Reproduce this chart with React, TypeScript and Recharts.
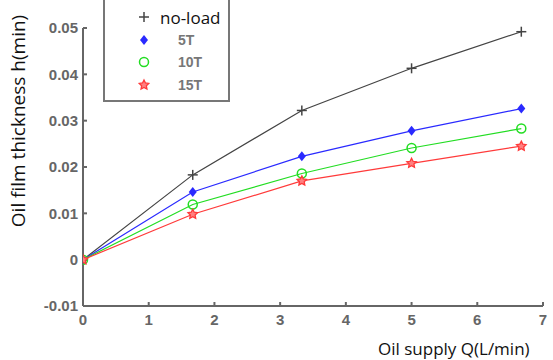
import React from 'react';
import { LineChart, Line, XAxis, YAxis } from 'recharts';

// oil supply Q (L/min)
const supply = [0, 1.67, 3.33, 5, 6.67];
const noLoad = [0, 0.0183, 0.0322, 0.0413, 0.0492];
const load5T = [0, 0.0146, 0.0223, 0.0278, 0.0326];
const load10T = [0, 0.0119, 0.0186, 0.0241, 0.0283];
const load15T = [0, 0.0098, 0.0170, 0.0208, 0.0245];

const xTicks = [0, 1, 2, 3, 4, 5, 6, 7];
const yTicks = [-0.01, 0, 0.01, 0.02, 0.03, 0.04, 0.05];

const data = supply.map((q, i) => ({
  q,
  noLoad: noLoad[i],
  t5: load5T[i],
  t10: load10T[i],
  t15: load15T[i],
}));

const series = [
  { key: 'noLoad', name: 'no-load', color: '#444444', marker: 'plus' },
  { key: 't5', name: '5T', color: '#2a2aff', marker: 'diamond' },
  { key: 't10', name: '10T', color: '#22dd22', marker: 'circle' },
  { key: 't15', name: '15T', color: '#ff3a3a', marker: 'star' },
];

const starPath = (cx: number, cy: number, r: number) => {
  const pts: string[] = [];
  for (let i = 0; i < 10; i++) {
    const rr = i % 2 === 0 ? r : r * 0.5;
    const a = -Math.PI / 2 + (i * Math.PI) / 5;
    pts.push(`${cx + rr * Math.cos(a)},${cy + rr * Math.sin(a)}`);
  }
  return pts.join(' ');
};

const Marker = ({ kind, cx, cy, color }: { kind: string; cx: number; cy: number; color: string }) => {
  if (kind === 'plus') {
    return (
      <g stroke={color} strokeWidth={1.5}>
        <line x1={cx - 5} y1={cy} x2={cx + 5} y2={cy} />
        <line x1={cx} y1={cy - 5} x2={cx} y2={cy + 5} />
      </g>
    );
  }
  if (kind === 'diamond') {
    return <polygon points={`${cx},${cy - 5} ${cx + 4},${cy} ${cx},${cy + 5} ${cx - 4},${cy}`} fill={color} />;
  }
  if (kind === 'circle') {
    return <circle cx={cx} cy={cy} r={4.5} fill="none" stroke={color} strokeWidth={1.5} />;
  }
  return <polygon points={starPath(cx, cy, 5)} fill="#ff8080" stroke={color} strokeWidth={1.3} />;
};

const makeDot = (kind: string, color: string) => (props: any) => {
  const { cx, cy, index } = props;
  if (cx == null || cy == null) return <g key={index} />;
  return <Marker key={index} kind={kind} cx={cx} cy={cy} color={color} />;
};

// legend drawn outside recharts so it doesn't push the plot down
const LegendBox = () => (
  <div
    style={{
      position: 'absolute',
      left: 103,
      top: -2,
      width: 127,
      height: 104,
      borderLeft: '2px solid #777',
      borderRight: '2px solid #777',
      borderBottom: '2px solid #777',
      background: '#fff',
      paddingTop: 8,
      boxSizing: 'border-box',
    }}
  >
    {series.map((s) => (
      <div key={s.key} style={{ display: 'flex', alignItems: 'center', height: 22.5 }}>
        <svg width={48} height={22} style={{ flex: 'none' }}>
          <Marker kind={s.marker} cx={39} cy={11} color={s.color} />
        </svg>
        <span
          style={{
            fontFamily: s.key === 'noLoad' ? '"Open Sans", sans-serif' : 'Arial, "Liberation Sans", sans-serif',
            fontSize: s.key === 'noLoad' ? 17 : 14,
            fontWeight: s.key === 'noLoad' ? 400 : 700,
            color: s.key === 'noLoad' ? '#111' : '#777',
            marginLeft: s.key === 'noLoad' ? 7 : 25,
            whiteSpace: 'nowrap',
          }}
        >
          {s.name}
        </span>
      </div>
    ))}
  </div>
);

const tickStyle = { fill: '#666', fontSize: 15, fontWeight: 700, fontFamily: 'Arial, "Liberation Sans", sans-serif' };

export default function App() {
  return (
    <div style={{ position: 'absolute', left: 0, top: 0, width: 553, height: 360, background: '#fff', overflow: 'hidden' }}>
      <LineChart width={553} height={360} data={data} margin={{ top: 28, right: 10, left: 0, bottom: 24 }}>
        <XAxis
          type="number"
          dataKey="q"
          domain={[0, 7]}
          ticks={xTicks}
          height={30}
          stroke="#666"
          strokeWidth={2}
          tickSize={-4}
          tickMargin={12}
          tick={tickStyle}
          allowDataOverflow
        />
        <YAxis
          type="number"
          domain={[-0.01, 0.05]}
          ticks={yTicks}
          width={83}
          stroke="#666"
          strokeWidth={2}
          tickSize={-4}
          tickMargin={9}
          tick={tickStyle}
          tickFormatter={(v: number) => (v === 0 ? '0' : String(Number(v.toFixed(2))))}
        />
        {series.map((s) => (
          <Line
            key={s.key}
            dataKey={s.key}
            name={s.name}
            stroke={s.color}
            strokeWidth={1.2}
            dot={makeDot(s.marker, s.color)}
            activeDot={false}
            isAnimationActive={false}
          />
        ))}
      </LineChart>
      <LegendBox />
      <div
        style={{
          position: 'absolute',
          left: 18,
          top: 121,
          transform: 'translate(-50%, -50%) rotate(-90deg)',
          whiteSpace: 'nowrap',
          fontFamily: '"Open Sans", sans-serif',
          fontSize: 19,
          color: '#111',
        }}
      >
        Oil film thickness h(min)
      </div>
      <div
        style={{
          position: 'absolute',
          left: 378,
          top: 340,
          lineHeight: '18px',
          whiteSpace: 'nowrap',
          fontFamily: '"Open Sans", sans-serif',
          fontSize: 17,
          color: '#111',
        }}
      >
        Oil supply Q(L/min)
      </div>
    </div>
  );
}
